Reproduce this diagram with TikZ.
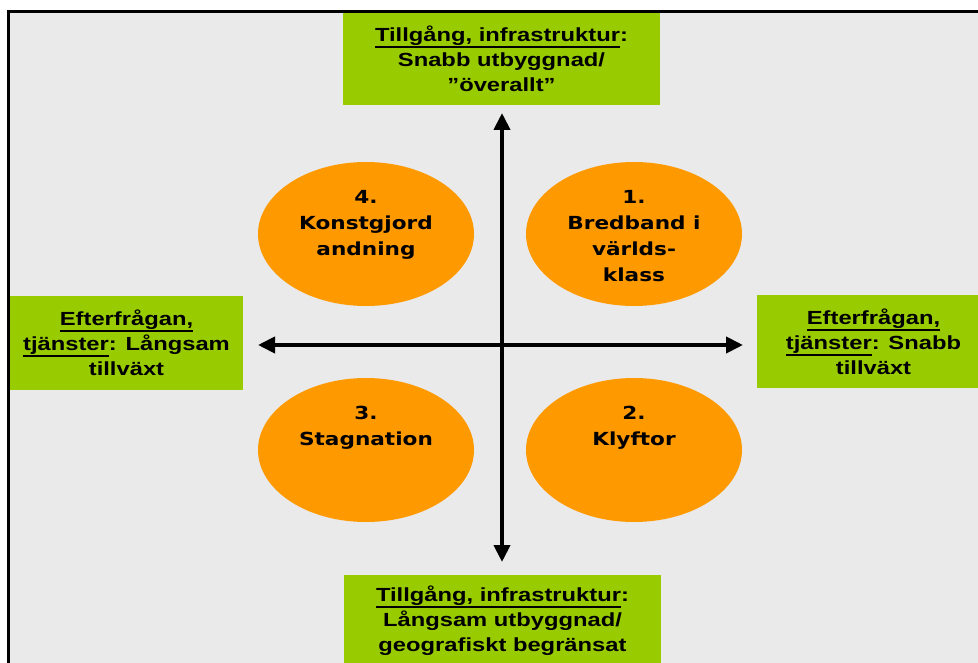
\documentclass[tikz,border=0pt]{standalone}
\usepackage{fontspec}
\setmainfont{Liberation Sans}
\newfontfamily\boxfont{Liberation Sans}[FakeStretch=1.25]
\newfontfamily\zonefont{DejaVu Sans}[FakeStretch=1.2]
\usepackage{tikz}
\usetikzlibrary{arrows.meta,shapes.geometric}
\definecolor{boxgreen}{HTML}{99CC00}
\definecolor{zoneorange}{HTML}{FF9900}
\definecolor{panelgray}{HTML}{EAEAEA}
\newcommand\ulined[1]{\setbox0\hbox{#1}\rlap{\rule[-6.5pt]{\wd0}{2pt}}\box0}

\begin{document}
\begin{tikzpicture}[
  x=1pt, y=-1pt,
  gbox/.style={
    fill=boxgreen, inner sep=0pt, align=center,
    font=\boxfont\bfseries\fontsize{19}{25}\selectfont
  },
  zone/.style={
    ellipse, fill=zoneorange, inner sep=0pt,
    minimum width=216pt, minimum height=144pt
  },
  zonetxt/.style={
    anchor=north, inner sep=0pt, align=center,
    font=\zonefont\bfseries\fontsize{18}{26}\selectfont
  },
  axis/.style={
    line width=4pt, >={Triangle[length=17pt,width=16pt]}, <->
  }
]
  \useasboundingbox (0,0) rectangle (978,663);
  \clip (0,0) rectangle (978,663);
  \fill[white] (0,0) rectangle (978,663);
  \fill[panelgray] (8.5,12) rectangle (1000,700);
  \draw[line width=3pt] (1000,12) -- (8.5,12) -- (8.5,700);

  % the four scenarios
  \foreach \n/\x/\y/\t in {4/366/234/{4.\\Konstgjord\\andning},
                           1/634/234/{1.\\Bredband i\\världs-\\klass},
                           3/366/450/{3.\\Stagnation},
                           2/634/450/{2.\\Klyftor}} {
    \node[zone] (z\n) at (\x,\y){};
    \node[zonetxt] (t\n) at ([yshift=-28pt]z\n.north){\t};
  }

  % axes
  \coordinate (ntip) at (502,113);
  \coordinate (stip) at (502,562);
  \coordinate (wtip) at (258,345);
  \coordinate (etip) at (743,345);
  \draw[axis] (ntip) -- (stip);
  \draw[axis] (wtip) -- (etip);

  % axis labels
  \node[gbox, minimum width=317pt, minimum height=92pt] (north) at (501.5,59)
    {\ulined{Tillgång, infrastruktur}:\\Snabb utbyggnad/\\”överallt”};
  \node[gbox, minimum width=317pt, minimum height=92pt] (south) at (502.5,621)
    {\ulined{Tillgång, infrastruktur}:\\Långsam utbyggnad/\\geografiskt begränsat};
  \node[gbox, minimum width=233pt, minimum height=94pt] (west) at (126.5,343)
    {\ulined{Efterfrågan,}\\\ulined{tjänster}: Långsam\\tillväxt};
  \node[gbox, minimum width=233pt, minimum height=93pt] (east) at (873.5,341.5)
    {\ulined{Efterfrågan,}\\\ulined{tjänster}: Snabb\\tillväxt};
\end{tikzpicture}
\end{document}
